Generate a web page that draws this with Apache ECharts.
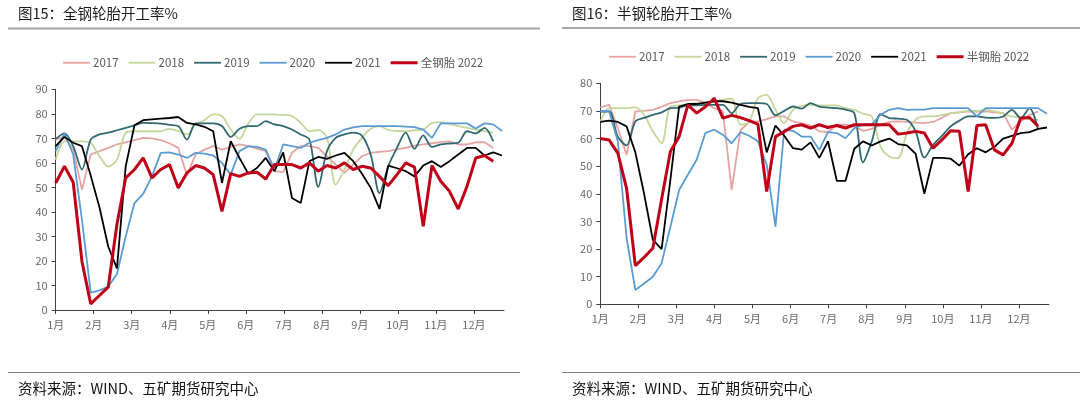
<!DOCTYPE html>
<html><head><meta charset="utf-8">
<script src="https://cdn.jsdelivr.net/npm/echarts@6/dist/echarts.min.js"></script>
<style>html,body{margin:0;padding:0;background:#fff}#c{width:1080px;height:403px}</style>
</head><body><div id="c"></div>
<script>
// month labels (tick labels)
const monthLabels = ['1月','2月','3月','4月','5月','6月','7月','8月','9月','10月','11月','12月'];
const seriesNames = ['2017','2018','2019','2020','2021'];
const allSteelName = '全钢胎 2022';
const semiSteelName = '半钢胎 2022';

// 全钢轮胎开工率 (%), weekly values starting in early January
const all2017 = [69.5,70.6,65.4,49.1,63.4,64.8,66.1,67.5,68.4,69.3,70.2,70,69.3,68,66.1,55,63.5,65.4,66.8,65.4,66.5,67.5,66.8,65.8,64.8,56.6,56.2,64.1,66.8,66.8,66.1,62.7,59.3,55.9,59.3,62.7,64.1,64.5,64.8,65.5,66.1,67,67.5,68,68.5,68.8,67.5,67.5,68.4,68.4,66.1];
const all2018 = [61.3,68.8,68.8,68.8,68.2,62.7,58.5,61.3,72.3,72.9,72.9,72.9,72.9,73.9,73,71.6,75.7,77.4,79.8,79.1,73.6,69.8,76,79.8,79.8,79.8,79.5,79.1,76.3,72.9,73.4,70.2,51.1,57.3,65.4,70.2,73.9,75,73.4,73,72.9,73.3,73.6,76.3,76.6,75.8,75,74.3,73.6,72.9,72.3];
const all2019 = [69.8,72,66.8,57.3,69.5,71.6,72.3,73.3,74.3,75.3,76.3,76.2,76,75.5,75,69.5,76.1,76.1,76.1,75,70.6,73.9,75,75,77,75.7,75,73.6,71.6,69.5,50.2,64.8,70.2,71.6,72.3,71,63.4,47.7,58.6,66.1,72.3,65.7,71.2,66.5,67.5,67.9,68.2,72.9,72,74.3,68.8];
const all2020 = [64.8,72,63.4,36.8,7.1,8,9.5,14.7,30,43.6,47.4,54.5,64.1,64.3,63.4,62,64.1,63.8,63,60,55.2,64.8,66.8,66.5,65.4,57.3,67.5,66.8,66.1,68.2,69.3,70.2,71.6,73.6,74.5,75,75,75,75,75,74.8,74.6,73.6,70.2,76.1,76.1,76.1,76.1,74,76.1,75.7,73];
const all2021 = [66.8,70.6,68.2,66.8,54.8,41.9,25.9,17,58.6,75.3,77.4,77.7,78,78.3,78.7,76.3,75.7,74.7,72.9,51.8,68.8,62,55.6,57.9,62,56.6,64.3,45.7,43.6,60.7,62.4,61.6,63,64.1,60.7,55.6,49.8,41.2,58.9,57.8,56.6,54.5,58.9,60.7,58.3,60.7,63.4,66.1,66.1,63,64.3,63];
const all2022 = [51.8,58.6,52.1,19.8,2.5,5.9,9.3,35,53.9,57.3,62,53.9,57.3,59.3,49.8,55.9,58.9,57.9,55.2,40.2,55.6,54.5,55.9,56.2,53.4,59.3,59.3,59.3,57.9,60,56.6,58.9,57.9,60,57.3,58.6,57.9,54.5,50.7,55.2,60,58.3,34.1,58.9,52.5,48.4,41.2,50.4,62,63,60.7];

// 半钢轮胎开工率 (%)
const semi2017 = [71.3,72.2,63.8,54.1,69.8,70,70.4,71.5,72.8,73.5,74,74,73,71,69.8,41.4,63,66,66.2,67,68,68,66.2,65.5,64.7,62.6,62.3,65,65,64.5,62.8,63.5,65,66,66.2,66,65.8,65.6,66,67.5,69.2,69.5,69.8,69.8,69.8,69.5,69.2,63.2,66.2,68.6,69.8];
const semi2018 = [66,71,71,71,71.3,68.6,62.6,58.3,71.6,72,72.5,72.8,73,73.5,74,74.4,65,66,74.6,75.8,70.4,65.6,70.4,71.8,72.2,72,72,72,71,70.4,69,68,57.1,53.5,52.9,62,66.8,68,68,68.5,69.2,69.5,70,70,70.4,69.8,69,68,67.5,67,66.8];
const semi2019 = [69.8,69.8,60.7,57.5,66.2,67.5,68.6,69.5,71,71.2,72,72,72.2,72.2,72.2,69.2,72.5,72.8,72.8,72.5,68.4,70,71.6,70.8,72.8,71.6,71.2,71,70.5,69.2,51.4,59,68.8,67.4,67.2,66.8,62.6,53.1,57.7,61,64.4,66.5,68,68,67.6,67.5,68,70.4,67.4,71,63.2];
const semi2020 = [69.8,70,59,24,5.2,7.5,10,14.9,28,41.4,46.9,52.3,62,63.2,61.4,58.3,62.3,61,59,50.5,28.1,63.2,62.8,60.7,60.7,55.9,62.3,62,60.1,63.8,65,65.2,68.6,70.4,71,70.4,70.5,70.5,71,71,71,71,71,68,71,71,71,71,71,71,71,69];
const semi2021 = [66,66.5,66,64.4,55,40,23.3,20,45,71.6,72.5,72.5,73,73.5,73.5,73,72.2,71.5,71,55,64.7,61,56.5,56,58.6,53,59,44.7,44.7,56.3,59,57.5,59,60,58,57.5,54.5,40,53,53,52.7,50.2,54.3,56.5,55,57,60,61,62,62.3,63.5,64];
const semi2022 = [60,59.5,54.7,42,14,17,20.3,38,55.3,60.7,72.2,69.2,71.5,74.6,67.4,68.4,67.6,66.5,65.2,40.8,60.7,62.5,64.4,65,63.8,65,64,64.7,63.8,65,65,65,65,65,61.6,62,62.6,62,56.5,59.5,62.8,62.6,40.8,64.7,65,55.9,54.1,58.3,67.4,67.6,64.4];

const allTicks = [0,10,20,30,40,50,60,70,80,90];
const semiTicks = [0,10,20,30,40,50,60,70,80];

// weekly index -> months since Jan 1 (x scale unit)
const WEEK_IN_MONTHS = 7 / (365 / 12);
const toPairs = arr => arr.map((v, i) => [i * WEEK_IN_MONTHS, v]);

const colors = ['#e8a3a3', '#c4d79b', '#31686f', '#5b9bd5', '#000000', '#c00018'];
const smoothFlags = [false, 0.3, 0.3, false, false, false];
const widths = [1.8, 1.8, 1.8, 1.8, 1.8, 3];

const C = echarts.init(document.getElementById('c'), null, {renderer: 'canvas'});
const font = '"Noto Sans CJK SC","Noto Sans",sans-serif';

function mkX(gi) {
  return {
    type: 'value', gridIndex: gi, min: 0, max: 11.79, interval: 1,
    axisLine: {show: true, lineStyle: {color: '#404040', width: 1}},
    axisTick: {show: true, length: 4, customValues: monthLabels.map((_, i) => i), lineStyle: {color: '#404040'}},
    axisLabel: {customValues: monthLabels.map((_, i) => i), formatter: v => monthLabels[Math.round(v)] || '',
      color: '#6b6b6b', fontSize: 11, margin: 9, fontFamily: font},
    splitLine: {show: false}
  };
}
function mkY(gi, ticks) {
  return {
    type: 'value', gridIndex: gi, min: ticks[0], max: ticks[ticks.length - 1], interval: 10,
    axisLine: {show: true, lineStyle: {color: '#404040', width: 1}},
    axisTick: {show: true, length: 4, lineStyle: {color: '#404040'}},
    axisLabel: {color: '#6b6b6b', fontSize: 11, margin: 8, fontFamily: font},
    splitLine: {show: false}
  };
}

const allData = [all2017, all2018, all2019, all2020, all2021, all2022];
const semiData = [semi2017, semi2018, semi2019, semi2020, semi2021, semi2022];
const allNames = seriesNames.concat([allSteelName]);
const semiNames = seriesNames.concat([semiSteelName]);

const series = [];
allData.forEach((d, i) => series.push({
  name: allNames[i], type: 'line', xAxisIndex: 0, yAxisIndex: 0, data: toPairs(d),
  symbol: 'none', smooth: smoothFlags[i], color: colors[i],
  lineStyle: {color: colors[i], width: widths[i]}, animation: false
}));
semiData.forEach((d, i) => series.push({
  name: semiNames[i], type: 'line', xAxisIndex: 1, yAxisIndex: 1, data: toPairs(d),
  symbol: 'none', smooth: smoothFlags[i], color: colors[i],
  lineStyle: {color: colors[i], width: widths[i]}, animation: false
}));

const thinIcon = 'path://M0,0H27V1.8H0Z';
const thickIcon = 'path://M0,0H27V3H0Z';
const legendItems = names => names.map((n, i) => ({
  name: n, icon: i === 5 ? thickIcon : thinIcon,
  itemStyle: {color: colors[i], borderWidth: 0}
}));

const legendCommon = {
  itemWidth: 27, itemHeight: 12, itemGap: 10, symbolKeepAspect: true,
  textStyle: {color: '#595959', fontSize: 11.5, fontFamily: font, padding: [0, 0, 0, -2]},
  selectedMode: false
};

C.setOption({
  backgroundColor: '#ffffff',
  animation: false,
  grid: [
    {left: 55.7, top: 89.3, width: 448.3, height: 220.7},
    {left: 600.3, top: 83.3, width: 448.7, height: 221}
  ],
  xAxis: [mkX(0), mkX(1)],
  yAxis: [mkY(0, allTicks), mkY(1, semiTicks)],
  legend: [
    Object.assign({left: 58, top: 52, data: legendItems(allNames)}, legendCommon),
    Object.assign({left: 604, top: 46, data: legendItems(semiNames)}, legendCommon)
  ],
  series: series,
  graphic: [
    {type: 'text', left: 18, top: 6, style: {text: '图15：全钢轮胎开工率%', fill: '#1a1a1a', font: '14.5px ' + font}},
    {type: 'text', left: 572, top: 6, style: {text: '图16：半钢轮胎开工率%', fill: '#1a1a1a', font: '14.5px ' + font}},
    {type: 'line', shape: {x1: 8, y1: 28.5, x2: 540, y2: 28.5}, style: {stroke: '#a6a6a6', lineWidth: 2}},
    {type: 'line', shape: {x1: 562, y1: 28, x2: 1080, y2: 28}, style: {stroke: '#a6a6a6', lineWidth: 2}},
    {type: 'line', shape: {x1: 8, y1: 372.5, x2: 520, y2: 372.5}, style: {stroke: '#7f7f7f', lineWidth: 1}},
    {type: 'line', shape: {x1: 562, y1: 372.5, x2: 1080, y2: 372.5}, style: {stroke: '#7f7f7f', lineWidth: 1}},
    {type: 'text', left: 18, top: 381, style: {text: '资料来源：WIND、五矿期货研究中心', fill: '#111', font: '14.5px ' + font}},
    {type: 'text', left: 572, top: 381, style: {text: '资料来源：WIND、五矿期货研究中心', fill: '#111', font: '14.5px ' + font}}
  ]
});
</script></body></html>
